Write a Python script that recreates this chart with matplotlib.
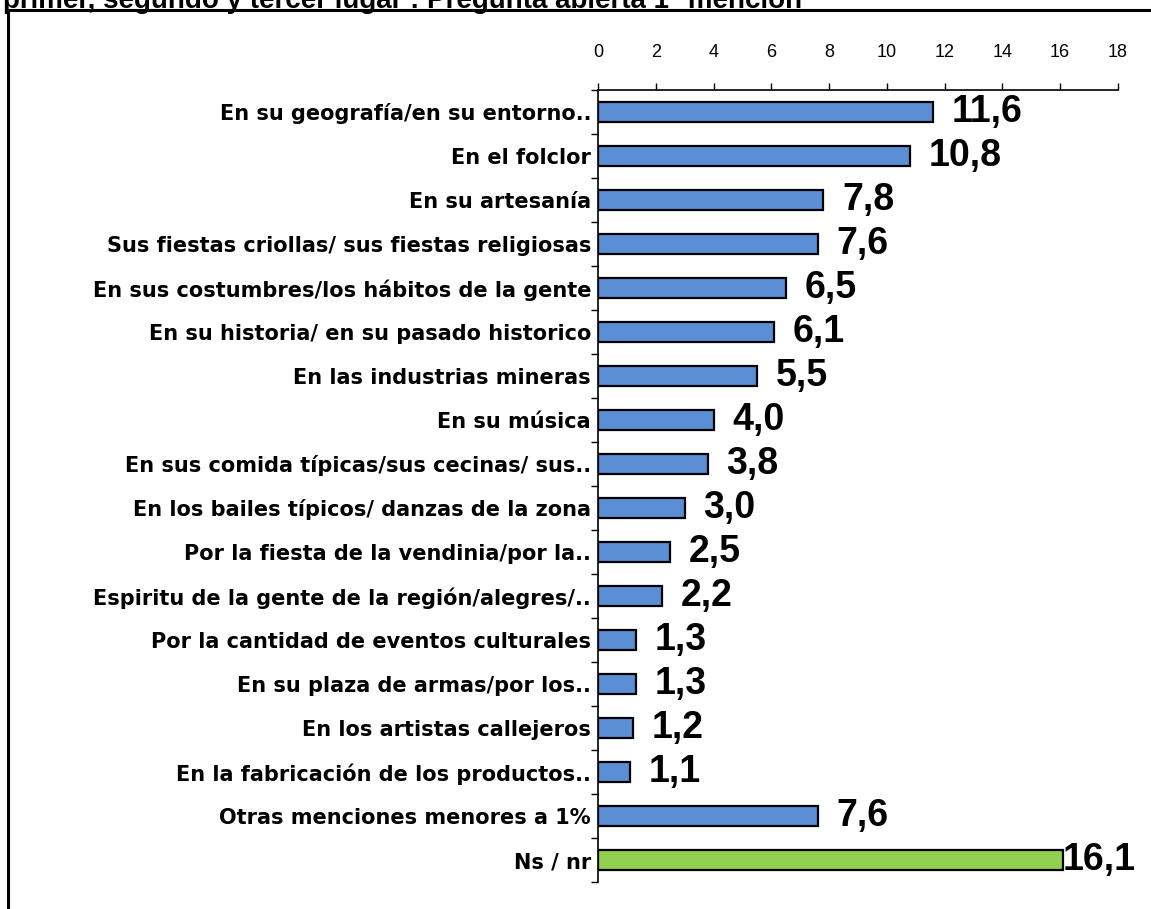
import matplotlib.pyplot as plt
from matplotlib.patches import Rectangle
import numpy as np

categorias = [
    'En su geografía/en su entorno..',
    'En el folclor',
    'En su artesanía',
    'Sus fiestas criollas/ sus fiestas religiosas',
    'En sus costumbres/los hábitos de la gente',
    'En su historia/ en su pasado historico',
    'En las industrias mineras',
    'En su música',
    'En sus comida típicas/sus cecinas/ sus..',
    'En los bailes típicos/ danzas de la zona',
    'Por la fiesta de la vendinia/por la..',
    'Espiritu de la gente de la región/alegres/..',
    'Por la cantidad de eventos culturales',
    'En su plaza de armas/por los..',
    'En los artistas callejeros',
    'En la fabricación de los productos..',
    'Otras menciones menores a 1%',
    'Ns / nr',
]
valores = [11.6, 10.8, 7.8, 7.6, 6.5, 6.1, 5.5, 4.0, 3.8, 3.0, 2.5, 2.2, 1.3, 1.3, 1.2, 1.1, 7.6, 16.1]
etiquetas = ['11,6', '10,8', '7,8', '7,6', '6,5', '6,1', '5,5', '4,0', '3,8', '3,0',
             '2,5', '2,2', '1,3', '1,3', '1,2', '1,1', '7,6', '16,1']
ticks_x = [0, 2, 4, 6, 8, 10, 12, 14, 16, 18]

titulo = 'primer, segundo y tercer lugar : Pregunta abierta 1° mención'

azul = '#5B8FD5'
verde = '#92D050'
colores = [azul] * (len(valores) - 1) + [verde]

plt.rcParams['font.family'] = ['Liberation Sans', 'DejaVu Sans']

fig = plt.figure(figsize=(11.51, 9.09), dpi=100)
ax = fig.add_axes([0.5195, 0.0297, 0.4518, 0.8713])

y = np.arange(len(valores))
ax.barh(y, valores, height=0.46, color=colores, edgecolor='black', linewidth=1.6, zorder=3)

for yi, v, txt in zip(y, valores, etiquetas):
    ax.text(min(v + 0.65, 16.1), yi, txt, va='center', ha='left', fontsize=27,
            fontweight='bold', clip_on=False)

ax.set_ylim(len(valores) - 0.5, -0.5)
ax.set_xlim(0, 18)
ax.set_xticks(ticks_x)
ax.xaxis.tick_top()
ax.tick_params(axis='x', direction='out', length=5, width=1, pad=16, labelsize=13)

ax.set_yticks(y)
ax.set_yticklabels(categorias, fontsize=15, fontweight='bold', family='DejaVu Sans')
ax.set_yticks(np.arange(len(valores) + 1) - 0.5, minor=True)
ax.tick_params(axis='y', which='major', length=0, pad=5)
ax.tick_params(axis='y', which='minor', direction='out', length=5, width=1)

for s in ['right', 'bottom']:
    ax.spines[s].set_visible(False)
ax.spines['top'].set_linewidth(1.2)
ax.spines['left'].set_linewidth(1.2)

# marco exterior
fig.patches.append(Rectangle((8 / 1151, -0.1), 1.2, 1.1 - 10 / 909, transform=fig.transFigure,
                             fill=False, edgecolor='black', linewidth=2.2))
fig.text(0.003, 1 - 8 / 909, titulo, fontsize=20, fontweight='bold', ha='left', va='baseline')

fig.savefig('out.png', dpi=100)
